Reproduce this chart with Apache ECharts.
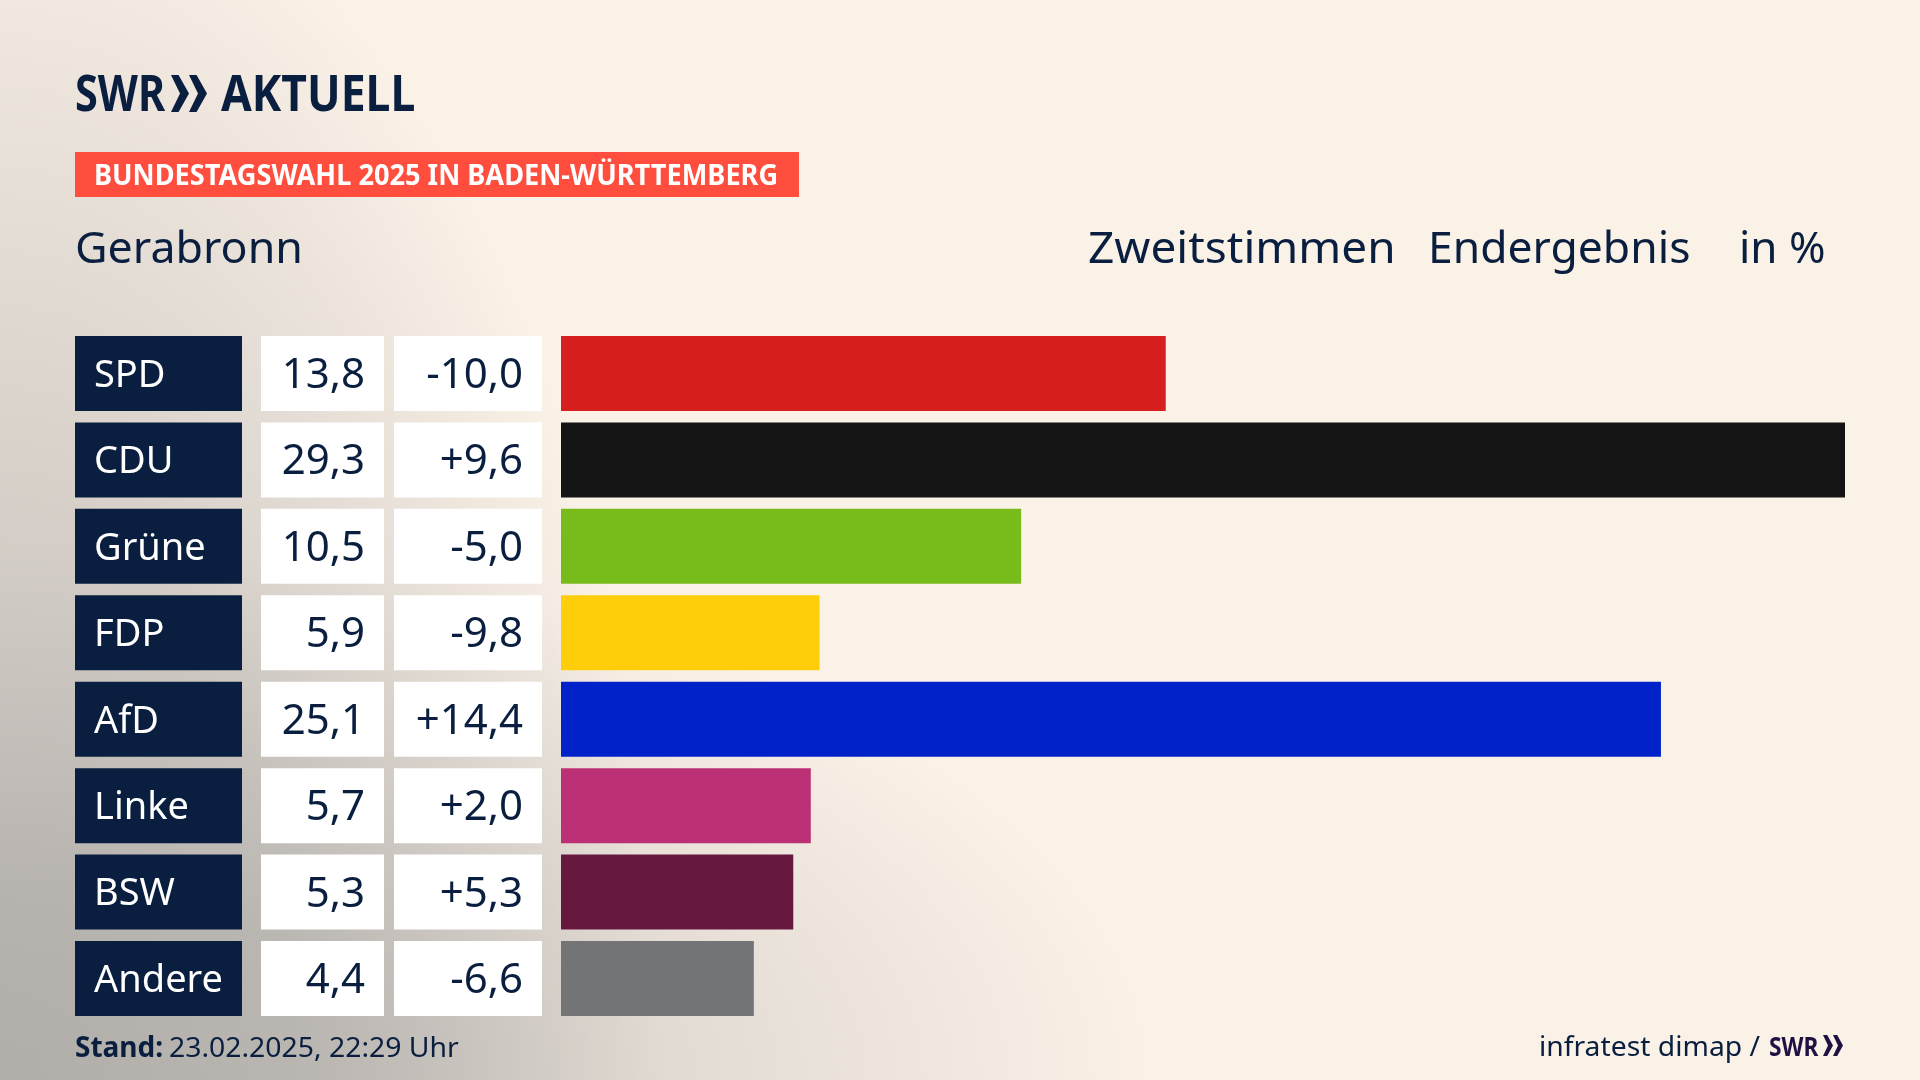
<!DOCTYPE html>
<html>
<head>
<meta charset="utf-8">
<title>Bundestagswahl 2025 Gerabronn</title>
<script src="https://cdn.jsdelivr.net/npm/echarts@6/dist/echarts.min.js"></script>
<style>
  html, body { margin: 0; padding: 0; background: #faf1e7; }
  #chart { width: 1920px; height: 1080px; }
</style>
</head>
<body>
<div id="chart"></div>
<script>
var parties = ['SPD', 'CDU', 'Grüne', 'FDP', 'AfD', 'Linke', 'BSW', 'Andere'];
var results = ['13,8', '29,3', '10,5', '5,9', '25,1', '5,7', '5,3', '4,4'];
var changes = ['-10,0', '+9,6', '-5,0', '-9,8', '+14,4', '+2,0', '+5,3', '-6,6'];
var shares = [13.8, 29.3, 10.5, 5.9, 25.1, 5.7, 5.3, 4.4];
var partyColors = ['#d81f1f', '#141414', '#78bc1b', '#ffce0a', '#0022c8', '#bc3075', '#66183f', '#737475'];

var navy = '#0a1f3f';
var font = '"Noto Sans", sans-serif';
var chart = echarts.init(document.getElementById('chart'));

// one text element for the header/footer
const label = (text, x, y, size, opts) => {
  opts = opts || {};
  return {
    type: 'text',
    x: x,
    y: y,
    scaleX: opts.scaleX || 1,
    style: {
      text: text,
      fill: opts.color || navy,
      font: (opts.weight || 'normal') + ' ' + size + 'px ' + font,
      textAlign: 'left',
      textVerticalAlign: 'middle'
    }
  };
};

const chevron = (x, y, w, h, color) => ({
  type: 'polygon',
  shape: {
    points: [[x, y], [x + w * 0.42, y], [x + w, y + h / 2], [x + w * 0.42, y + h], [x, y + h], [x + w * 0.5, y + h / 2]]
  },
  style: { fill: color }
});

// grey shade out of the bottom left corner, squeezed into an ellipse with scaleX
const shade = (radiusX, radiusY, stops) => ({
  type: 'rect',
  x: 0,
  y: 1080,
  scaleX: radiusX / radiusY,
  shape: { x: 0, y: -radiusY, width: radiusY, height: radiusY },
  style: {
    fill: new echarts.graphic.RadialGradient(0, 1, 1, stops.map(s => ({
      offset: s[0],
      color: 'rgba(136,136,136,' + s[1] + ')'
    })))
  }
});

// the three table columns are axis labels on the same category scale as the bars
const cellAxis = (margin, boxWidth, formatter, cellStyle, textColor, textSize) => ({
  type: 'category',
  inverse: true,
  position: 'left',
  data: parties,
  axisLine: { show: false },
  axisTick: { show: false },
  splitLine: { show: false },
  axisLabel: Object.assign({
    interval: 0,
    margin: margin,
    width: boxWidth - 19,
    height: 75,
    fontFamily: font,
    formatter: (v, i) => '{t|' + formatter(v, i) + '}',
    rich: { t: { color: textColor, fontSize: textSize, fontFamily: font, lineHeight: 80 } }
  }, cellStyle)
});

var valueCell = { align: 'right', backgroundColor: '#ffffff', padding: [0, 19, 0, 0] };
var partyCell = { align: 'left', backgroundColor: navy, padding: [0, 0, 0, 19] };

chart.setOption({
  animation: false,
  backgroundColor: '#faf1e7',
  graphic: [
    shade(660, 1250, [[0, 0.4], [0.45, 0.33], [1, 0]]),
    shade(1150, 540, [[0, 0.4], [0.35, 0.34], [0.7, 0.15], [1, 0]]),
    label('SWR', 75, 96.5, 50, { weight: 'bold', scaleX: 0.83 }),
    chevron(171, 75, 18, 37, navy),
    chevron(189, 75, 18, 37, navy),
    label('AKTUELL', 221, 96.5, 50, { weight: 'bold', scaleX: 0.89 }),
    { type: 'rect', shape: { x: 75, y: 152, width: 724, height: 45 }, style: { fill: '#ff4e3d' } },
    label('BUNDESTAGSWAHL 2025 IN BADEN-WÜRTTEMBERG', 94, 177.5, 28, { weight: 'bold', color: '#ffffff', scaleX: 0.97 }),
    label('Gerabronn', 75, 250.5, 44, { scaleX: 1.017 }),
    label('Zweitstimmen', 1088, 250.5, 44, { scaleX: 1.045 }),
    label('Endergebnis', 1428, 250.5, 44, { scaleX: 1.01 }),
    label('in %', 1739, 250.5, 44),
    label('Stand:', 75, 1049.5, 28, { weight: 'bold' }),
    label('23.02.2025, 22:29 Uhr', 169, 1049.5, 28, { scaleX: 1.013 }),
    label('infratest dimap /', 1539, 1048.5, 28, { scaleX: 1.01 }),
    label('SWR', 1769, 1048.5, 27, { weight: 'bold', color: '#1f1243', scaleX: 0.84 }),
    chevron(1823, 1035, 10, 21, '#1f1243'),
    chevron(1833, 1035, 10, 21, '#1f1243')
  ],
  grid: { left: 561, top: 330.3, width: 1284, height: 691.4, containLabel: false },
  xAxis: { type: 'value', min: 0, max: 29.3, show: false },
  yAxis: [
    cellAxis(486, 167, (v) => v, partyCell, '#ffffff', 38),
    cellAxis(177, 123, (v, i) => results[i], valueCell, navy, 42),
    cellAxis(19, 148, (v, i) => changes[i], valueCell, navy, 42)
  ],
  series: [{
    type: 'bar',
    yAxisIndex: 0,
    barWidth: 75,
    silent: true,
    data: shares.map((v, i) => ({ value: v, itemStyle: { color: partyColors[i] } }))
  }]
});
</script>
</body>
</html>
